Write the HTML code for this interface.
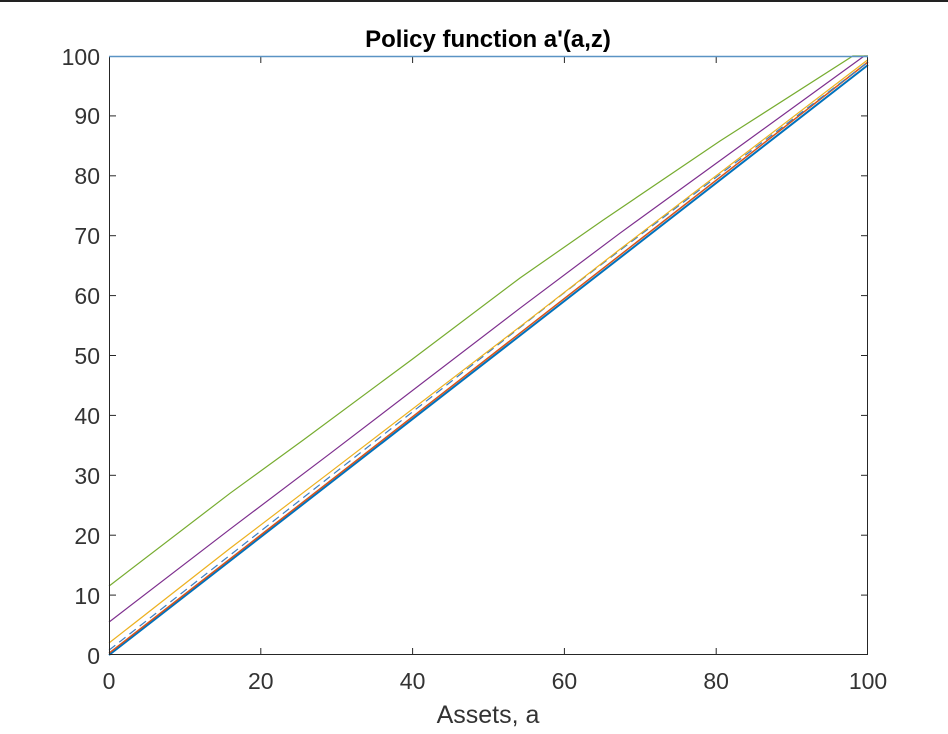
<!DOCTYPE html>
<html><head><style>html,body{margin:0;padding:0;background:#fff}</style></head>
<body>
<svg width="948" height="729" xmlns="http://www.w3.org/2000/svg" font-family="Liberation Sans, sans-serif">
<rect x="0" y="0" width="948" height="729" fill="#fff"/>
<rect x="0" y="0" width="948" height="2" fill="#222"/>
<g fill="none" stroke-width="1.2">
<polyline points="109,655 868,65" stroke="#0072BD" stroke-width="2"/>
<polyline points="109,653.2 868,62" stroke="#D95319" stroke-width="1.5"/>
<polyline points="109,650.2 564.4,292.6 868,62" stroke="#3b7fc4" stroke-dasharray="8,5"/>
<polyline points="109,643 230,548.4 329.9,472.3 520,326.7 619.8,249.4 868,59.6" stroke="#EDB120"/>
<polyline points="109,622.1 230,529.2 329.9,453.7 520,308.2 619.8,233.3 864.2,56 868,56" stroke="#7E2F8E"/>
<polyline points="109,586.1 230,493.3 303.3,440 412.6,359 520,278 603.1,220.1 720,141 852.8,56 868,56" stroke="#77AC30"/>
</g>
<g stroke="#262626" stroke-width="1" fill="none">
<rect x="109.5" y="56.5" width="758" height="598"/>
<line x1="109" y1="595.1" x2="116" y2="595.1"/><line x1="109" y1="535.2" x2="116" y2="535.2"/>
<line x1="109" y1="475.3" x2="116" y2="475.3"/><line x1="109" y1="415.4" x2="116" y2="415.4"/>
<line x1="109" y1="355.5" x2="116" y2="355.5"/><line x1="109" y1="295.6" x2="116" y2="295.6"/>
<line x1="109" y1="235.7" x2="116" y2="235.7"/><line x1="109" y1="175.8" x2="116" y2="175.8"/>
<line x1="109" y1="115.9" x2="116" y2="115.9"/>
<line x1="868" y1="595.1" x2="861" y2="595.1"/><line x1="868" y1="535.2" x2="861" y2="535.2"/>
<line x1="868" y1="475.3" x2="861" y2="475.3"/><line x1="868" y1="415.4" x2="861" y2="415.4"/>
<line x1="868" y1="355.5" x2="861" y2="355.5"/><line x1="868" y1="295.6" x2="861" y2="295.6"/>
<line x1="868" y1="235.7" x2="861" y2="235.7"/><line x1="868" y1="175.8" x2="861" y2="175.8"/>
<line x1="868" y1="115.9" x2="861" y2="115.9"/>
<line x1="260.8" y1="655" x2="260.8" y2="648"/><line x1="412.6" y1="655" x2="412.6" y2="648"/>
<line x1="564.4" y1="655" x2="564.4" y2="648"/><line x1="716.2" y1="655" x2="716.2" y2="648"/>
<line x1="260.8" y1="56" x2="260.8" y2="63"/><line x1="412.6" y1="56" x2="412.6" y2="63"/>
<line x1="564.4" y1="56" x2="564.4" y2="63"/><line x1="716.2" y1="56" x2="716.2" y2="63"/>
</g>
<line x1="109" y1="56.5" x2="868" y2="56.5" stroke="#5a93c4" stroke-width="1.6"/>
<g fill="#333" font-size="23" text-anchor="end">
<text x="100" y="664">0</text><text x="100" y="604">10</text><text x="100" y="544">20</text>
<text x="100" y="484">30</text><text x="100" y="424">40</text><text x="100" y="364">50</text>
<text x="100" y="304">60</text><text x="100" y="244">70</text><text x="100" y="184">80</text>
<text x="100" y="124">90</text><text x="100" y="65">100</text>
</g>
<g fill="#333" font-size="23" text-anchor="middle">
<text x="109" y="689">0</text><text x="260.8" y="689">20</text><text x="412.6" y="689">40</text>
<text x="564.4" y="689">60</text><text x="716.2" y="689">80</text><text x="868" y="689">100</text>
<text x="488" y="723" font-size="25">Assets, a</text>
<text x="488" y="47" font-size="24" font-weight="bold" fill="#000">Policy function a'(a,z)</text>
</g>
</svg>
</body></html>
